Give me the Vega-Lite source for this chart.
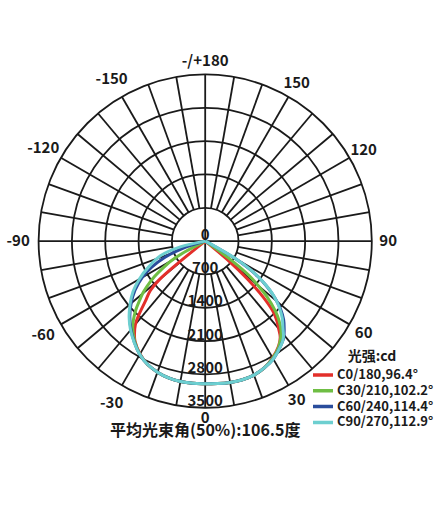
{
  "$schema": "https://vega.github.io/schema/vega-lite/v6.json",
  "width": 438,
  "height": 516,
  "padding": 0,
  "autosize": "none",
  "background": "white",
  "config": {"view": {"stroke": null}, "font": "Noto Sans CJK SC"},
  "datasets": {
    "circles": [{"r": 700}, {"r": 1400}, {"r": 2100}, {"r": 2800}, {"r": 3500}],
    "spokes": [{"angle": -170}, {"angle": -160}, {"angle": -150}, {"angle": -140}, {"angle": -130}, {"angle": -120}, {"angle": -110}, {"angle": -100}, {"angle": -90}, {"angle": -80}, {"angle": -70}, {"angle": -60}, {"angle": -50}, {"angle": -40}, {"angle": -30}, {"angle": -20}, {"angle": -10}, {"angle": 0}, {"angle": 10}, {"angle": 20}, {"angle": 30}, {"angle": 40}, {"angle": 50}, {"angle": 60}, {"angle": 70}, {"angle": 80}, {"angle": 90}, {"angle": 100}, {"angle": 110}, {"angle": 120}, {"angle": 130}, {"angle": 140}, {"angle": 150}, {"angle": 160}, {"angle": 170}, {"angle": 180}],
    "angleLabels": [
      {"angle": -150, "label": "-150"}, {"angle": -120, "label": "-120"}, {"angle": -90, "label": "-90"},
      {"angle": -60, "label": "-60"}, {"angle": -30, "label": "-30"}, {"angle": 0, "label": "0"},
      {"angle": 30, "label": "30"}, {"angle": 60, "label": "60"}, {"angle": 90, "label": "90"},
      {"angle": 120, "label": "120"}, {"angle": 150, "label": "150"}, {"angle": 180, "label": "-/+180"}
    ],
    "radLabels": [{"value": 0, "label": "0"}, {"value": 700, "label": "700"}, {"value": 1400, "label": "1400"}, {"value": 2100, "label": "2100"}, {"value": 2800, "label": "2800"}, {"value": 3500, "label": "3500"}],
    "curves": [
      {"series": "C0/180,96.4°", "angle": -52, "cd": 0},
      {"series": "C0/180,96.4°", "angle": -50, "cd": 1250},
      {"series": "C0/180,96.4°", "angle": -48, "cd": 1550},
      {"series": "C0/180,96.4°", "angle": -45, "cd": 1770},
      {"series": "C0/180,96.4°", "angle": -42, "cd": 2080},
      {"series": "C0/180,96.4°", "angle": -40, "cd": 2280},
      {"series": "C0/180,96.4°", "angle": -37, "cd": 2470},
      {"series": "C0/180,96.4°", "angle": -35, "cd": 2570},
      {"series": "C0/180,96.4°", "angle": -30, "cd": 2740},
      {"series": "C0/180,96.4°", "angle": -25, "cd": 2860},
      {"series": "C0/180,96.4°", "angle": -20, "cd": 2930},
      {"series": "C0/180,96.4°", "angle": -15, "cd": 2975},
      {"series": "C0/180,96.4°", "angle": -10, "cd": 2995},
      {"series": "C0/180,96.4°", "angle": -5, "cd": 3000},
      {"series": "C0/180,96.4°", "angle": 0, "cd": 2995},
      {"series": "C0/180,96.4°", "angle": 5, "cd": 3005},
      {"series": "C0/180,96.4°", "angle": 10, "cd": 3015},
      {"series": "C0/180,96.4°", "angle": 15, "cd": 3015},
      {"series": "C0/180,96.4°", "angle": 20, "cd": 2995},
      {"series": "C0/180,96.4°", "angle": 25, "cd": 2940},
      {"series": "C0/180,96.4°", "angle": 30, "cd": 2830},
      {"series": "C0/180,96.4°", "angle": 35, "cd": 2690},
      {"series": "C0/180,96.4°", "angle": 38, "cd": 2560},
      {"series": "C0/180,96.4°", "angle": 40, "cd": 2400},
      {"series": "C0/180,96.4°", "angle": 42, "cd": 2250},
      {"series": "C0/180,96.4°", "angle": 44, "cd": 2050},
      {"series": "C0/180,96.4°", "angle": 46, "cd": 1700},
      {"series": "C0/180,96.4°", "angle": 48, "cd": 1200},
      {"series": "C0/180,96.4°", "angle": 50, "cd": 600},
      {"series": "C0/180,96.4°", "angle": 51.5, "cd": 0},

      {"series": "C30/210,102.2°", "angle": -66, "cd": 0},
      {"series": "C30/210,102.2°", "angle": -62, "cd": 500},
      {"series": "C30/210,102.2°", "angle": -60, "cd": 815},
      {"series": "C30/210,102.2°", "angle": -57, "cd": 1100},
      {"series": "C30/210,102.2°", "angle": -55, "cd": 1300},
      {"series": "C30/210,102.2°", "angle": -52, "cd": 1560},
      {"series": "C30/210,102.2°", "angle": -50, "cd": 1720},
      {"series": "C30/210,102.2°", "angle": -48, "cd": 1850},
      {"series": "C30/210,102.2°", "angle": -45, "cd": 2070},
      {"series": "C30/210,102.2°", "angle": -40, "cd": 2370},
      {"series": "C30/210,102.2°", "angle": -35, "cd": 2580},
      {"series": "C30/210,102.2°", "angle": -30, "cd": 2745},
      {"series": "C30/210,102.2°", "angle": -25, "cd": 2860},
      {"series": "C30/210,102.2°", "angle": -20, "cd": 2930},
      {"series": "C30/210,102.2°", "angle": -15, "cd": 2975},
      {"series": "C30/210,102.2°", "angle": -10, "cd": 2995},
      {"series": "C30/210,102.2°", "angle": -5, "cd": 3000},
      {"series": "C30/210,102.2°", "angle": 0, "cd": 2995},
      {"series": "C30/210,102.2°", "angle": 5, "cd": 3005},
      {"series": "C30/210,102.2°", "angle": 10, "cd": 3015},
      {"series": "C30/210,102.2°", "angle": 15, "cd": 3015},
      {"series": "C30/210,102.2°", "angle": 20, "cd": 2995},
      {"series": "C30/210,102.2°", "angle": 25, "cd": 2940},
      {"series": "C30/210,102.2°", "angle": 30, "cd": 2840},
      {"series": "C30/210,102.2°", "angle": 35, "cd": 2700},
      {"series": "C30/210,102.2°", "angle": 40, "cd": 2480},
      {"series": "C30/210,102.2°", "angle": 43, "cd": 2270},
      {"series": "C30/210,102.2°", "angle": 45, "cd": 2090},
      {"series": "C30/210,102.2°", "angle": 48, "cd": 1750},
      {"series": "C30/210,102.2°", "angle": 50, "cd": 1450},
      {"series": "C30/210,102.2°", "angle": 52, "cd": 1150},
      {"series": "C30/210,102.2°", "angle": 54, "cd": 600},
      {"series": "C30/210,102.2°", "angle": 55.5, "cd": 0},

      {"series": "C60/240,114.4°", "angle": -76, "cd": 0},
      {"series": "C60/240,114.4°", "angle": -72, "cd": 520},
      {"series": "C60/240,114.4°", "angle": -68, "cd": 920},
      {"series": "C60/240,114.4°", "angle": -64, "cd": 1250},
      {"series": "C60/240,114.4°", "angle": -60, "cd": 1530},
      {"series": "C60/240,114.4°", "angle": -55, "cd": 1800},
      {"series": "C60/240,114.4°", "angle": -50, "cd": 2030},
      {"series": "C60/240,114.4°", "angle": -45, "cd": 2240},
      {"series": "C60/240,114.4°", "angle": -40, "cd": 2425},
      {"series": "C60/240,114.4°", "angle": -35, "cd": 2595},
      {"series": "C60/240,114.4°", "angle": -30, "cd": 2750},
      {"series": "C60/240,114.4°", "angle": -25, "cd": 2860},
      {"series": "C60/240,114.4°", "angle": -20, "cd": 2930},
      {"series": "C60/240,114.4°", "angle": -15, "cd": 2975},
      {"series": "C60/240,114.4°", "angle": -10, "cd": 2995},
      {"series": "C60/240,114.4°", "angle": -5, "cd": 3000},
      {"series": "C60/240,114.4°", "angle": 0, "cd": 2995},
      {"series": "C60/240,114.4°", "angle": 5, "cd": 3005},
      {"series": "C60/240,114.4°", "angle": 10, "cd": 3015},
      {"series": "C60/240,114.4°", "angle": 15, "cd": 3015},
      {"series": "C60/240,114.4°", "angle": 20, "cd": 2995},
      {"series": "C60/240,114.4°", "angle": 25, "cd": 2940},
      {"series": "C60/240,114.4°", "angle": 30, "cd": 2860},
      {"series": "C60/240,114.4°", "angle": 36, "cd": 2705},
      {"series": "C60/240,114.4°", "angle": 39, "cd": 2620},
      {"series": "C60/240,114.4°", "angle": 42, "cd": 2480},
      {"series": "C60/240,114.4°", "angle": 45, "cd": 2330},
      {"series": "C60/240,114.4°", "angle": 48, "cd": 2130},
      {"series": "C60/240,114.4°", "angle": 50, "cd": 1960},
      {"series": "C60/240,114.4°", "angle": 52, "cd": 1780},
      {"series": "C60/240,114.4°", "angle": 54, "cd": 1570},
      {"series": "C60/240,114.4°", "angle": 56, "cd": 1340},
      {"series": "C60/240,114.4°", "angle": 58, "cd": 1070},
      {"series": "C60/240,114.4°", "angle": 60, "cd": 700},
      {"series": "C60/240,114.4°", "angle": 62, "cd": 150},
      {"series": "C60/240,114.4°", "angle": 63, "cd": 0},

      {"series": "C90/270,112.9°", "angle": -80, "cd": 0},
      {"series": "C90/270,112.9°", "angle": -77, "cd": 520},
      {"series": "C90/270,112.9°", "angle": -72, "cd": 980},
      {"series": "C90/270,112.9°", "angle": -66, "cd": 1280},
      {"series": "C90/270,112.9°", "angle": -60, "cd": 1600},
      {"series": "C90/270,112.9°", "angle": -55, "cd": 1850},
      {"series": "C90/270,112.9°", "angle": -50, "cd": 2060},
      {"series": "C90/270,112.9°", "angle": -45, "cd": 2260},
      {"series": "C90/270,112.9°", "angle": -40, "cd": 2440},
      {"series": "C90/270,112.9°", "angle": -35, "cd": 2600},
      {"series": "C90/270,112.9°", "angle": -30, "cd": 2750},
      {"series": "C90/270,112.9°", "angle": -25, "cd": 2860},
      {"series": "C90/270,112.9°", "angle": -20, "cd": 2930},
      {"series": "C90/270,112.9°", "angle": -15, "cd": 2975},
      {"series": "C90/270,112.9°", "angle": -10, "cd": 2995},
      {"series": "C90/270,112.9°", "angle": -5, "cd": 3000},
      {"series": "C90/270,112.9°", "angle": 0, "cd": 2995},
      {"series": "C90/270,112.9°", "angle": 5, "cd": 3005},
      {"series": "C90/270,112.9°", "angle": 10, "cd": 3015},
      {"series": "C90/270,112.9°", "angle": 15, "cd": 3015},
      {"series": "C90/270,112.9°", "angle": 20, "cd": 2995},
      {"series": "C90/270,112.9°", "angle": 25, "cd": 2940},
      {"series": "C90/270,112.9°", "angle": 30, "cd": 2860},
      {"series": "C90/270,112.9°", "angle": 36, "cd": 2710},
      {"series": "C90/270,112.9°", "angle": 39, "cd": 2610},
      {"series": "C90/270,112.9°", "angle": 42, "cd": 2440},
      {"series": "C90/270,112.9°", "angle": 45, "cd": 2290},
      {"series": "C90/270,112.9°", "angle": 48, "cd": 2100},
      {"series": "C90/270,112.9°", "angle": 50, "cd": 1955},
      {"series": "C90/270,112.9°", "angle": 52, "cd": 1790},
      {"series": "C90/270,112.9°", "angle": 54, "cd": 1580},
      {"series": "C90/270,112.9°", "angle": 56, "cd": 1350},
      {"series": "C90/270,112.9°", "angle": 58, "cd": 1090},
      {"series": "C90/270,112.9°", "angle": 60, "cd": 740},
      {"series": "C90/270,112.9°", "angle": 62, "cd": 200},
      {"series": "C90/270,112.9°", "angle": 64, "cd": 0}
    ]
  },
  "layer": [
    {
      "data": {"name": "circles"},
      "transform": [{"calculate": "datum.r * datum.r", "as": "r2"}],
      "mark": {"type": "point", "shape": "circle", "filled": false, "stroke": "#1a1a1a", "strokeWidth": 1.8, "opacity": 1},
      "encoding": {
        "x": {"datum": 0, "type": "quantitative", "scale": {"domain": [-4311, 4891], "nice": false, "zero": false}, "axis": null},
        "y": {"datum": 0, "type": "quantitative", "scale": {"domain": [-5775, 5065], "nice": false, "zero": false}, "axis": null},
        "size": {"field": "r2", "type": "quantitative", "scale": {"type": "linear", "domain": [0, 12250000], "range": [0, 111022], "zero": true}, "legend": null}
      }
    },
    {
      "data": {"name": "spokes"},
      "transform": [
        {"calculate": "(datum.angle % 90 == 0) ? 0 : 700", "as": "r0"},
        {"calculate": "datum.r0 * sin(datum.angle * PI / 180)", "as": "x"},
        {"calculate": "-datum.r0 * cos(datum.angle * PI / 180)", "as": "y"},
        {"calculate": "3500 * sin(datum.angle * PI / 180)", "as": "x2"},
        {"calculate": "-3500 * cos(datum.angle * PI / 180)", "as": "y2"}
      ],
      "mark": {"type": "rule", "stroke": "#1a1a1a", "strokeWidth": 1.8},
      "encoding": {
        "x": {"field": "x", "type": "quantitative", "scale": {"domain": [-4311, 4891], "nice": false, "zero": false}, "axis": null},
        "y": {"field": "y", "type": "quantitative", "scale": {"domain": [-5775, 5065], "nice": false, "zero": false}, "axis": null},
        "x2": {"field": "x2"},
        "y2": {"field": "y2"}
      }
    },
    {
      "data": {"name": "curves"},
      "transform": [
        {"calculate": "datum.cd * sin(datum.angle * PI / 180)", "as": "x"},
        {"calculate": "-datum.cd * cos(datum.angle * PI / 180)", "as": "y"}
      ],
      "mark": {"type": "line", "strokeWidth": 3, "interpolate": "catmull-rom"},
      "encoding": {
        "x": {"field": "x", "type": "quantitative", "scale": {"domain": [-4311, 4891], "nice": false, "zero": false}, "axis": null},
        "y": {"field": "y", "type": "quantitative", "scale": {"domain": [-5775, 5065], "nice": false, "zero": false}, "axis": null},
        "order": {"field": "angle", "type": "quantitative"},
        "color": {
          "field": "series", "type": "nominal",
          "scale": {"domain": ["C0/180,96.4°", "C30/210,102.2°", "C60/240,114.4°", "C90/270,112.9°"], "range": ["#e32f2a", "#6fbe44", "#2a4d9c", "#6dcfd0"]},
          "sort": ["C0/180,96.4°", "C30/210,102.2°", "C60/240,114.4°", "C90/270,112.9°"],
          "legend": {
            "orient": "none", "legendX": 311, "legendY": 350,
            "title": "光强:cd", "titleFontSize": 14, "titleFontWeight": "bold", "titleColor": "#1a1a1a",
            "titleAnchor": "middle", "titlePadding": 4,
            "labelFontSize": 13, "labelFontWeight": "bold", "labelColor": "#1a1a1a", "labelLimit": 0, "labelOffset": 2,
            "symbolType": "stroke", "symbolSize": 400, "symbolStrokeWidth": 3.5,
            "clipHeight": 14, "rowPadding": 1.8, "padding": 0
          }
        }
      }
    },
    {
      "data": {"name": "radLabels"},
      "transform": [
        {"calculate": "-datum.value", "as": "y"}
      ],
      "mark": {"type": "text", "fontSize": 15, "fontWeight": "bold", "color": "#1a1a1a", "baseline": "middle", "align": "center", "dy": -6.5},
      "encoding": {
        "x": {"datum": 0, "type": "quantitative", "scale": {"domain": [-4311, 4891], "nice": false, "zero": false}, "axis": null},
        "y": {"field": "y", "type": "quantitative", "scale": {"domain": [-5775, 5065], "nice": false, "zero": false}, "axis": null},
        "text": {"field": "label"}
      }
    },
    {
      "data": {"name": "angleLabels"},
      "transform": [
        {"calculate": "datum.angle == 0 ? 3720 : (datum.angle == 180 ? 3785 : (datum.angle < 0 ? 3930 : 3845))", "as": "rr"},
        {"calculate": "datum.rr * sin(datum.angle * PI / 180)", "as": "x"},
        {"calculate": "-datum.rr * cos(datum.angle * PI / 180)", "as": "y"}
      ],
      "mark": {"type": "text", "fontSize": 15, "fontWeight": "bold", "color": "#1a1a1a", "baseline": "middle", "align": "center"},
      "encoding": {
        "x": {"field": "x", "type": "quantitative", "scale": {"domain": [-4311, 4891], "nice": false, "zero": false}, "axis": null},
        "y": {"field": "y", "type": "quantitative", "scale": {"domain": [-5775, 5065], "nice": false, "zero": false}, "axis": null},
        "text": {"field": "label"}
      }
    },
    {
      "data": {"values": [{"t": "平均光束角(50%):106.5度"}]},
      "mark": {"type": "text", "fontSize": 16, "fontWeight": "bold", "color": "#1a1a1a", "baseline": "middle", "align": "center"},
      "encoding": {
        "x": {"datum": 0, "type": "quantitative", "scale": {"domain": [-4311, 4891], "nice": false, "zero": false}, "axis": null},
        "y": {"datum": -3990, "type": "quantitative", "scale": {"domain": [-5775, 5065], "nice": false, "zero": false}, "axis": null},
        "text": {"field": "t"}
      }
    }
  ]
}
